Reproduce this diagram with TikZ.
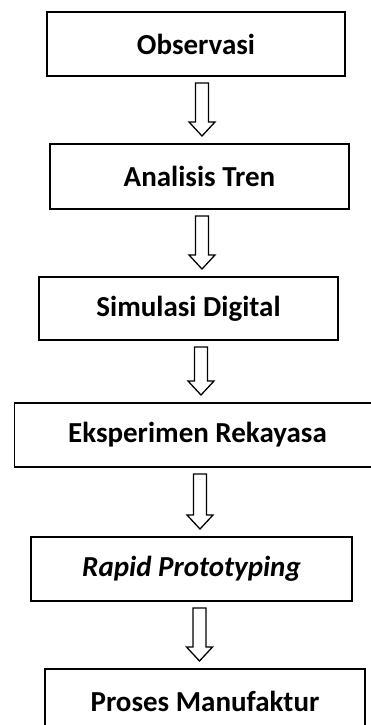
\documentclass[tikz,border=0pt]{standalone}
\usepackage{fontspec}
\setmainfont{Carlito}
\usetikzlibrary{calc}
\tikzset{
  stepbox/.style={draw, line width=1.7pt, rectangle, outer sep=0pt, inner sep=0pt,
    font=\fontsize{29}{35}\selectfont\bfseries},
  blockarrow/.style={draw, line width=1.3pt, line join=miter, fill=white,
    to path={let \p1=(\tikztostart.south), \p2=(\tikztotarget.north) in
      (#1pt-6.5pt,\y1-7pt) -- (#1pt+6.5pt,\y1-7pt) -- (#1pt+6.5pt,\y2+22pt)
      -- (#1pt+13pt,\y2+22pt) -- (#1pt,\y2+8pt) -- (#1pt-13pt,\y2+22pt)
      -- (#1pt-6.5pt,\y2+22pt) -- cycle}}
}
\begin{document}
\begin{tikzpicture}[x=1pt,y=-1pt]
\path[use as bounding box] (0,0) rectangle (371,725);
\clip (0,0) rectangle (371,725);
\node[stepbox, minimum width=298pt, minimum height=64pt] (obs) at (196,44) {Observasi};
\node[stepbox, minimum width=299pt, minimum height=65pt] (ana) at (199.5,176.5) {Analisis Tren};
\node[stepbox, minimum width=299pt, minimum height=63pt] (sim) at (188.5,308.5) {Simulasi Digital};
\node[stepbox, minimum width=366pt, minimum height=64pt] (eks) at (197.5,435) {Eksperimen Rekayasa};
\node[stepbox, minimum width=321pt, minimum height=64pt] (rap) at (191.5,569) {\itshape Rapid Prototyping};
\node[stepbox, minimum width=320pt, minimum height=64pt] (pro) at (205,701) {Proses Manufaktur};
\draw[blockarrow=202] (obs) to (ana);
\draw[blockarrow=202] (ana) to (sim);
\draw[blockarrow=201] (sim) to (eks);
\draw[blockarrow=200] (eks) to (rap);
\draw[blockarrow=199.5] (rap) to (pro);
\end{tikzpicture}
\end{document}
